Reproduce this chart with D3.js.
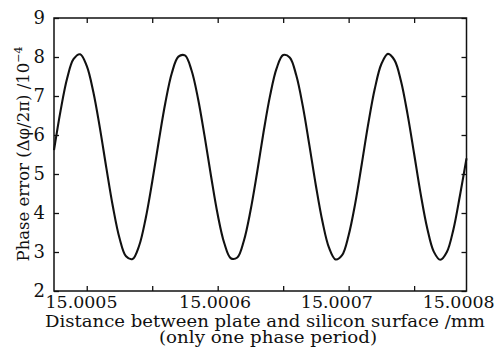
<!DOCTYPE html>
<html>
<head>
<meta charset="utf-8">
<script src="https://cdn.jsdelivr.net/npm/d3@7/dist/d3.min.js"></script>
<style>
  html, body { margin: 0; padding: 0; background: #fff; }
  svg { display: block; }
  text { font-family: "DejaVu Serif", "Liberation Serif", serif; fill: #111; }
</style>
</head>
<body>
<svg id="chart" width="495" height="347"></svg>
<script>
// Distance between plate and silicon surface (mm), sampled every 5 nm
const distance = [
  15.000475, 15.000480, 15.000485, 15.000490, 15.000495, 15.000500, 15.000505, 15.000510,
  15.000515, 15.000520, 15.000525, 15.000530, 15.000535, 15.000540, 15.000545, 15.000550,
  15.000555, 15.000560, 15.000565, 15.000570, 15.000575, 15.000580, 15.000585, 15.000590,
  15.000595, 15.000600, 15.000605, 15.000610, 15.000615, 15.000620, 15.000625, 15.000630,
  15.000635, 15.000640, 15.000645, 15.000650, 15.000655, 15.000660, 15.000665, 15.000670,
  15.000675, 15.000680, 15.000685, 15.000690, 15.000695, 15.000700, 15.000705, 15.000710,
  15.000715, 15.000720, 15.000725, 15.000730, 15.000735, 15.000740, 15.000745, 15.000750,
  15.000755, 15.000760, 15.000765, 15.000770, 15.000775, 15.000780, 15.000785, 15.000790
];

// Phase error (Δφ/2π), in units of 1e-4
const phaseError = [
  5.61, 6.62, 7.45, 7.95, 8.07, 7.77, 7.11, 6.19,
  5.15, 4.16, 3.36, 2.89, 2.82, 3.16, 3.86, 4.80,
  5.84, 6.82, 7.59, 8.01, 8.04, 7.66, 6.93, 5.97,
  4.93, 3.96, 3.23, 2.84, 2.86, 3.29, 4.05, 5.02,
  6.07, 7.01, 7.71, 8.05, 7.99, 7.53, 6.74, 5.74,
  4.70, 3.78, 3.11, 2.81, 2.92, 3.43, 4.24, 5.25,
  6.29, 7.19, 7.82, 8.08, 7.92, 7.38, 6.53, 5.52,
  4.49, 3.61, 3.01, 2.80, 3.00, 3.58, 4.45, 5.40
];

const xDomain = [15.000475, 15.00079];
const yDomain = [2, 9];
const xTicks = [15.0005, 15.00055, 15.0006, 15.00065, 15.0007, 15.00075];
const yTicks = [2, 3, 4, 5, 6, 7, 8, 9];
const xTickLabels = ["15.0005", "15.0006", "15.0007", "15.0008"];
const xTickLabelAt = [15.000496, 15.000598, 15.000691, 15.000784];

const svg = d3.select("#chart");
const plot = { left: 54, right: 466.5, top: 18, bottom: 291 };

const x = d3.scaleLinear().domain(xDomain).range([plot.left, plot.right]);
const y = d3.scaleLinear().domain(yDomain).range([plot.bottom, plot.top]);

const tickLen = 5;

// inward ticks on all four sides
const g = svg.append("g");
g.append("g")
  .attr("transform", `translate(0,${plot.bottom})`)
  .call(d3.axisTop(x).tickValues(xTicks).tickSize(tickLen).tickFormat(""));
g.append("g")
  .attr("transform", `translate(0,${plot.top})`)
  .call(d3.axisBottom(x).tickValues(xTicks).tickSize(tickLen).tickFormat(""));
g.append("g")
  .attr("transform", `translate(${plot.left},0)`)
  .call(d3.axisRight(y).tickValues(yTicks).tickSize(tickLen).tickFormat(""));
g.append("g")
  .attr("transform", `translate(${plot.right},0)`)
  .call(d3.axisLeft(y).tickValues(yTicks).tickSize(tickLen).tickFormat(""));
g.selectAll(".domain").remove();
g.selectAll(".tick line").attr("stroke", "#111").attr("stroke-width", 1.3);

// frame
svg.append("rect")
  .attr("x", plot.left).attr("y", plot.top)
  .attr("width", plot.right - plot.left).attr("height", plot.bottom - plot.top)
  .attr("fill", "none").attr("stroke", "#111").attr("stroke-width", 1.5);

// y tick labels
svg.append("g").selectAll("text").data(yTicks).join("text")
  .attr("x", plot.left - 9)
  .attr("y", d => y(d))
  .attr("dy", "0.36em")
  .attr("text-anchor", "end")
  .attr("font-size", 18)
  .text(d => d);

// x tick labels
svg.append("g").selectAll("text").data(xTickLabels).join("text")
  .attr("x", (d, i) => x(xTickLabelAt[i]))
  .attr("y", 308)
  .attr("text-anchor", "middle")
  .attr("font-size", 17.5)
  .attr("textLength", 72)
  .attr("lengthAdjust", "spacingAndGlyphs")
  .text(d => d);

// axis titles
svg.append("text")
  .attr("x", 265).attr("y", 327)
  .attr("text-anchor", "middle")
  .attr("font-size", 17)
  .attr("textLength", 440)
  .attr("lengthAdjust", "spacingAndGlyphs")
  .text("Distance between plate and silicon surface /mm");
svg.append("text")
  .attr("x", 268).attr("y", 343)
  .attr("text-anchor", "middle")
  .attr("font-size", 17)
  .attr("textLength", 218)
  .attr("lengthAdjust", "spacingAndGlyphs")
  .text("(only one phase period)");

const yTitle = svg.append("text")
  .attr("transform", "translate(29,154) rotate(-90)")
  .attr("text-anchor", "middle")
  .attr("font-size", 16.5);
yTitle.append("tspan").text("Phase error (Δφ/2π) /10");
yTitle.append("tspan").attr("dy", -7).attr("font-size", 11).text("−4");

// curve
const line = d3.line()
  .x((d, i) => x(distance[i]))
  .y(d => y(d))
  .curve(d3.curveCatmullRom.alpha(0.5));

svg.append("path")
  .datum(phaseError)
  .attr("d", line)
  .attr("fill", "none")
  .attr("stroke", "#111")
  .attr("stroke-width", 2.1);
</script>
</body>
</html>
